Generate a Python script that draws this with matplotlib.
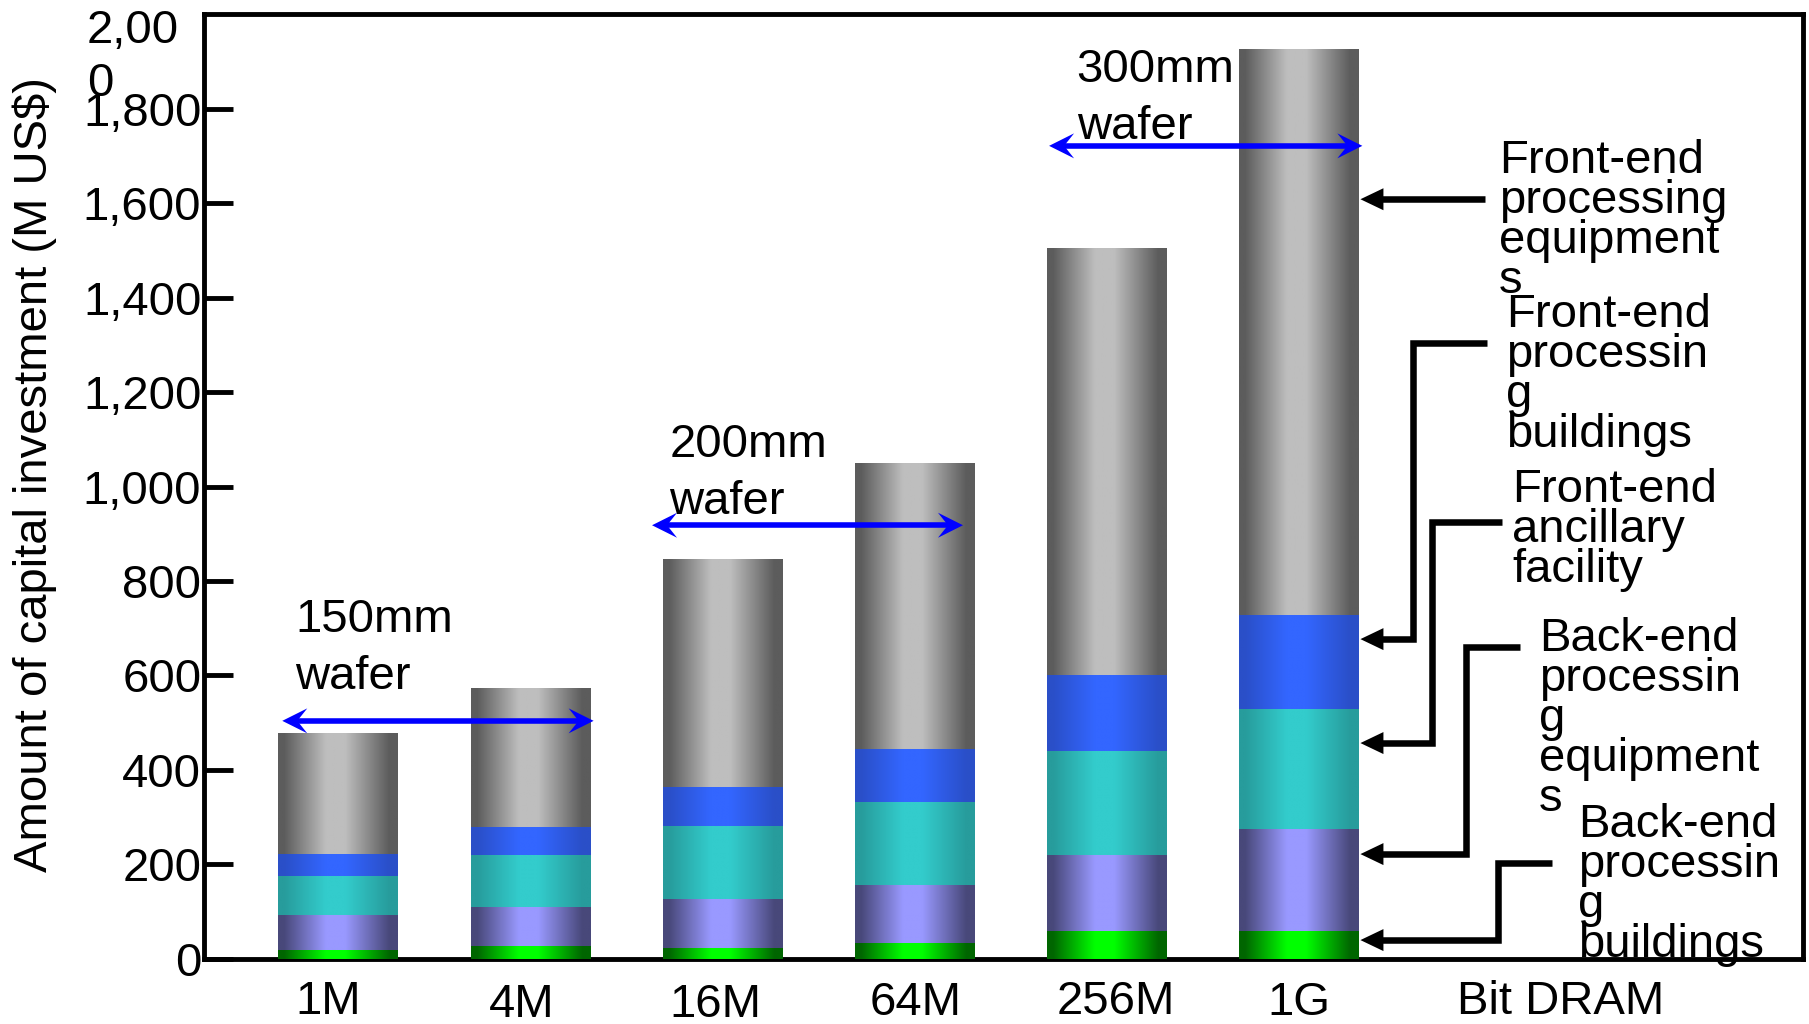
import numpy as np
import matplotlib
matplotlib.use("Agg")
import matplotlib.pyplot as plt
from matplotlib.colors import to_rgb
from matplotlib.patches import Polygon
from matplotlib.transforms import ScaledTranslation

plt.rcParams['font.family'] = ['Liberation Sans', 'DejaVu Sans']

# ---- data (M US$) ----
categories = ["1M", "4M", "16M", "64M", "256M", "1G"]
back_end_buildings = [20, 27, 24, 34, 60, 59]
back_end_equipment = [73, 83, 103, 123, 160, 217]
front_end_ancillary = [83, 110, 154, 176, 221, 254]
front_end_buildings = [47, 59, 82, 111, 159, 197]
front_end_equipment = [256, 295, 483, 606, 905, 1200]

y_ticks = [0, 200, 400, 600, 800, 1000, 1200, 1400, 1600, 1800]
y_tick_labels = ["0", "200", "400", "600", "800", "1,000", "1,200",
                 "1,400", "1,600", "1,800"]
top_tick_label = "2,00\n0"
x_axis_title = "Bit DRAM"
y_axis_title = "Amount of capital investment (M US$)"

series_labels = [
    "Back-end\nprocessin\ng\nbuildings",
    "Back-end\nprocessin\ng\nequipment\ns",
    "Front-end\nancillary\nfacility",
    "Front-end\nprocessin\ng\nbuildings",
    "Front-end\nprocessing\nequipment\ns",
]
# (edge shade, highlight) for the cylinder-like fill of each layer
series_colors = [
    ("#006600", "#00ff00"),
    ("#48487a", "#9999ff"),
    ("#279c9c", "#33cccc"),
    ("#2a4fc8", "#3366ff"),
    ("#5c5c5c", "#bebebe"),
]
series_values = [back_end_buildings, back_end_equipment, front_end_ancillary,
                 front_end_buildings, front_end_equipment]

wafer_labels = ["150mm\nwafer", "200mm\nwafer", "300mm\nwafer"]

FS = 34
fig = plt.figure(figsize=(18.09, 10.24), dpi=100)
ax = fig.add_axes([0.1128, 0.0635, 0.8839, 0.9228])

x = np.arange(len(categories))
bar_width = 0.62


def shade(edge, mid, n=256):
    t = np.linspace(0, 1, n)
    w = np.interp(t, [0.0, 0.05, 0.40, 0.56, 0.93, 1.0], [0, 0, 1, 1, 0, 0])
    e = np.array(to_rgb(edge))
    m = np.array(to_rgb(mid))
    c = e[None, :] * (1 - w[:, None]) + m[None, :] * w[:, None]
    return c[None, :, :]


bottom = np.zeros(len(categories))
for vals, (edge, mid) in zip(series_values, series_colors):
    bars = ax.bar(x, vals, bar_width, bottom=bottom, color=mid,
                  linewidth=0, zorder=2)
    grad = shade(edge, mid)
    for patch in bars:
        x0, y0 = patch.get_x(), patch.get_y()
        im = ax.imshow(grad, extent=[x0, x0 + patch.get_width(),
                                     y0, y0 + patch.get_height()],
                       aspect='auto', interpolation='bilinear', zorder=3)
        im.set_clip_path(patch)
    bottom += np.array(vals)

ax.set_xlim(-0.697, 7.623)
ax.set_ylim(0, 2000)

# axes styling
for sp in ax.spines.values():
    sp.set_linewidth(3.5)
    sp.set_color('black')
ax.set_yticks(y_ticks)
ax.set_yticklabels(y_tick_labels)
ax.tick_params(axis='y', direction='in', length=21, width=3.5, pad=2,
               labelsize=FS)
ax.set_xticks(list(x) + [6.36])
ax.set_xticklabels(categories + [x_axis_title])
ax.tick_params(axis='x', length=0, pad=15, labelsize=FS)

# small per-label nudges of the category labels (pixels: right, down)
label_nudges = [(-10, 0), (-9, 3), (-7, 3), (1, 1), (9, 0), (0, 1), (0, 0)]
for lab, (dx, dy) in zip(ax.get_xticklabels(), label_nudges):
    lab.set_transform(lab.get_transform() +
                      ScaledTranslation(dx / 100, -dy / 100, fig.dpi_scale_trans))

fig.text(87 / 1809, 1 - 9 / 1024, top_tick_label, fontsize=FS,
         ha='left', va='top', linespacing=1.25)
fig.text(35 / 1809, 1 - 474.5 / 1024, y_axis_title, fontsize=FS,
         rotation=90, ha='center', va='center')

px_per_x = ax.bbox.width / (7.623 + 0.697)


def head(tip, direction, length_px, half_px, notch_px, color):
    s = direction
    verts = np.array([(0, 0), (-s * length_px, half_px),
                      (-s * notch_px, 0), (-s * length_px, -half_px)]) / fig.dpi
    trans = fig.dpi_scale_trans + ScaledTranslation(tip[0], tip[1], ax.transData)
    ax.add_patch(Polygon(verts, closed=True, transform=trans, facecolor=color,
                         edgecolor='none', zorder=6, clip_on=False))


# wafer-size spans
wafer_spans = [(-0.29, 1.33, 504), (1.634, 3.252, 918), (3.70, 5.33, 1721)]
wafer_text_pos = [(-0.223, 764), (1.723, 1134), (3.843, 1928)]
blue = '#0000ff'
for label, (xa, xb, yy), (tx, ty) in zip(wafer_labels, wafer_spans, wafer_text_pos):
    off = 14 / px_per_x
    ax.plot([xa + off, xb - off], [yy, yy], color=blue, lw=4.0,
            solid_capstyle='butt', zorder=5, clip_on=False)
    head((xb, yy), 1, 25, 12.5, 15, blue)
    head((xa, yy), -1, 25, 12.5, 15, blue)
    ax.text(tx, ty, label, fontsize=FS, ha='left', va='top',
            linespacing=1.37, zorder=7)

# layer call-outs on the right
tip_x = x[-1] + bar_width / 2 + 0.01
callout_paths = [
    [(6.036, 203), (6.036, 40)],
    [(5.870, 660), (5.870, 222)],
    [(5.693, 925), (5.693, 457)],
    [(5.595, 1304), (5.595, 677)],
    [(5.969, 1608)],
]
callout_starts = [6.317, 6.151, 6.057, 5.979, 5.969]
callout_text_pos = [(6.452, 330), (6.249, 724), (6.109, 1039),
                    (6.078, 1409), (6.041, 1735)]
for label, path, sx, (tx, ty) in zip(series_labels, callout_paths,
                                      callout_starts, callout_text_pos):
    y_first = path[0][1]
    y_tip = path[-1][1]
    xs = [sx] + [p[0] for p in path] + [tip_x + 20 / px_per_x]
    ys = [y_first] + [p[1] for p in path] + [y_tip]
    ax.plot(xs, ys, color='black', lw=4.7, solid_joinstyle='miter',
            solid_capstyle='butt', zorder=5, clip_on=False)
    head((tip_x, y_tip), -1, 23, 11, 23, 'black')
    ax.text(tx, ty, label, fontsize=FS, ha='left', va='top',
            linespacing=0.88, zorder=7)

fig.savefig("out.png", dpi=100)
